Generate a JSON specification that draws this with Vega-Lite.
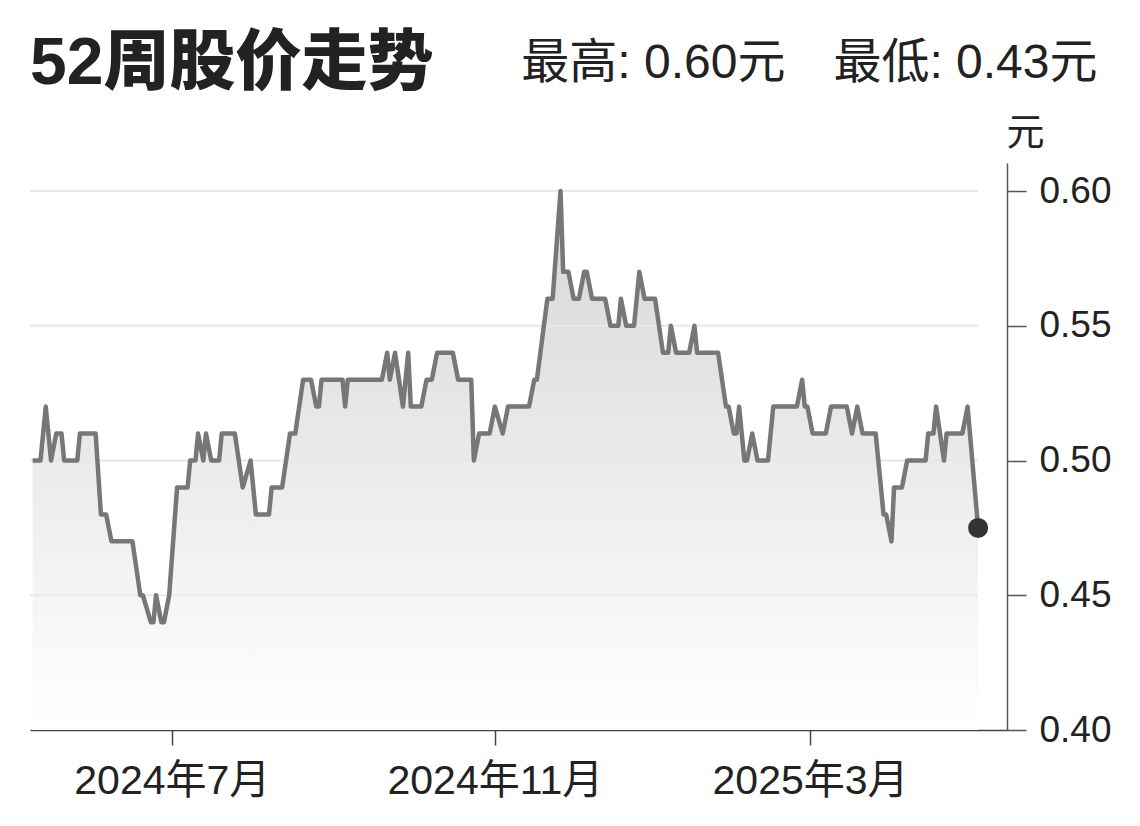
{
  "$schema": "https://vega.github.io/schema/vega-lite/v6.json",
  "width": 977,
  "height": 567,
  "autosize": {"type": "none"},
  "padding": {"left": 30, "top": 163, "right": 133, "bottom": 96},
  "background": "#ffffff",
  "config": {"view": {"stroke": null}, "font": "Liberation Sans, Noto Sans CJK SC"},
  "title": {"text": "52周股价走势", "anchor": "start", "frame": "group", "fontSize": 66, "fontWeight": 900, "font": "Liberation Sans, Noto Sans CJK SC", "color": "#222222", "offset": 0, "dy": 59},
  "datasets": {
    "prices": [
      {"date": "2024-05-09", "price": 0.50},
      {"date": "2024-05-12", "price": 0.50},
      {"date": "2024-05-14", "price": 0.52},
      {"date": "2024-05-16", "price": 0.50},
      {"date": "2024-05-18", "price": 0.51},
      {"date": "2024-05-20", "price": 0.51},
      {"date": "2024-05-21", "price": 0.50},
      {"date": "2024-05-26", "price": 0.50},
      {"date": "2024-05-27", "price": 0.51},
      {"date": "2024-06-02", "price": 0.51},
      {"date": "2024-06-04", "price": 0.48},
      {"date": "2024-06-06", "price": 0.48},
      {"date": "2024-06-08", "price": 0.47},
      {"date": "2024-06-16", "price": 0.47},
      {"date": "2024-06-19", "price": 0.45},
      {"date": "2024-06-20", "price": 0.45},
      {"date": "2024-06-23", "price": 0.44},
      {"date": "2024-06-24", "price": 0.44},
      {"date": "2024-06-25", "price": 0.45},
      {"date": "2024-06-27", "price": 0.44},
      {"date": "2024-06-28", "price": 0.44},
      {"date": "2024-06-30", "price": 0.45},
      {"date": "2024-07-03", "price": 0.49},
      {"date": "2024-07-07", "price": 0.49},
      {"date": "2024-07-08", "price": 0.50},
      {"date": "2024-07-10", "price": 0.50},
      {"date": "2024-07-11", "price": 0.51},
      {"date": "2024-07-13", "price": 0.50},
      {"date": "2024-07-14", "price": 0.51},
      {"date": "2024-07-16", "price": 0.50},
      {"date": "2024-07-19", "price": 0.50},
      {"date": "2024-07-20", "price": 0.51},
      {"date": "2024-07-25", "price": 0.51},
      {"date": "2024-07-28", "price": 0.49},
      {"date": "2024-07-31", "price": 0.50},
      {"date": "2024-08-02", "price": 0.48},
      {"date": "2024-08-07", "price": 0.48},
      {"date": "2024-08-08", "price": 0.49},
      {"date": "2024-08-12", "price": 0.49},
      {"date": "2024-08-15", "price": 0.51},
      {"date": "2024-08-17", "price": 0.51},
      {"date": "2024-08-20", "price": 0.53},
      {"date": "2024-08-23", "price": 0.53},
      {"date": "2024-08-25", "price": 0.52},
      {"date": "2024-08-26", "price": 0.52},
      {"date": "2024-08-27", "price": 0.53},
      {"date": "2024-09-04", "price": 0.53},
      {"date": "2024-09-05", "price": 0.52},
      {"date": "2024-09-06", "price": 0.53},
      {"date": "2024-09-19", "price": 0.53},
      {"date": "2024-09-21", "price": 0.54},
      {"date": "2024-09-22", "price": 0.53},
      {"date": "2024-09-24", "price": 0.54},
      {"date": "2024-09-27", "price": 0.52},
      {"date": "2024-09-29", "price": 0.54},
      {"date": "2024-09-30", "price": 0.52},
      {"date": "2024-10-04", "price": 0.52},
      {"date": "2024-10-06", "price": 0.53},
      {"date": "2024-10-08", "price": 0.53},
      {"date": "2024-10-10", "price": 0.54},
      {"date": "2024-10-16", "price": 0.54},
      {"date": "2024-10-18", "price": 0.53},
      {"date": "2024-10-23", "price": 0.53},
      {"date": "2024-10-24", "price": 0.50},
      {"date": "2024-10-26", "price": 0.51},
      {"date": "2024-10-30", "price": 0.51},
      {"date": "2024-11-01", "price": 0.52},
      {"date": "2024-11-04", "price": 0.51},
      {"date": "2024-11-06", "price": 0.52},
      {"date": "2024-11-14", "price": 0.52},
      {"date": "2024-11-16", "price": 0.53},
      {"date": "2024-11-17", "price": 0.53},
      {"date": "2024-11-21", "price": 0.56},
      {"date": "2024-11-23", "price": 0.56},
      {"date": "2024-11-26", "price": 0.60},
      {"date": "2024-11-27", "price": 0.57},
      {"date": "2024-11-29", "price": 0.57},
      {"date": "2024-12-01", "price": 0.56},
      {"date": "2024-12-03", "price": 0.56},
      {"date": "2024-12-05", "price": 0.57},
      {"date": "2024-12-06", "price": 0.57},
      {"date": "2024-12-08", "price": 0.56},
      {"date": "2024-12-13", "price": 0.56},
      {"date": "2024-12-15", "price": 0.55},
      {"date": "2024-12-18", "price": 0.55},
      {"date": "2024-12-19", "price": 0.56},
      {"date": "2024-12-21", "price": 0.55},
      {"date": "2024-12-24", "price": 0.55},
      {"date": "2024-12-26", "price": 0.57},
      {"date": "2024-12-28", "price": 0.56},
      {"date": "2025-01-01", "price": 0.56},
      {"date": "2025-01-04", "price": 0.54},
      {"date": "2025-01-06", "price": 0.54},
      {"date": "2025-01-07", "price": 0.55},
      {"date": "2025-01-09", "price": 0.54},
      {"date": "2025-01-14", "price": 0.54},
      {"date": "2025-01-16", "price": 0.55},
      {"date": "2025-01-17", "price": 0.54},
      {"date": "2025-01-25", "price": 0.54},
      {"date": "2025-01-28", "price": 0.52},
      {"date": "2025-01-29", "price": 0.52},
      {"date": "2025-01-31", "price": 0.51},
      {"date": "2025-02-01", "price": 0.51},
      {"date": "2025-02-02", "price": 0.52},
      {"date": "2025-02-04", "price": 0.50},
      {"date": "2025-02-05", "price": 0.50},
      {"date": "2025-02-07", "price": 0.51},
      {"date": "2025-02-09", "price": 0.50},
      {"date": "2025-02-13", "price": 0.50},
      {"date": "2025-02-15", "price": 0.52},
      {"date": "2025-02-24", "price": 0.52},
      {"date": "2025-02-26", "price": 0.53},
      {"date": "2025-02-27", "price": 0.52},
      {"date": "2025-02-28", "price": 0.52},
      {"date": "2025-03-02", "price": 0.51},
      {"date": "2025-03-07", "price": 0.51},
      {"date": "2025-03-09", "price": 0.52},
      {"date": "2025-03-15", "price": 0.52},
      {"date": "2025-03-17", "price": 0.51},
      {"date": "2025-03-19", "price": 0.52},
      {"date": "2025-03-21", "price": 0.51},
      {"date": "2025-03-26", "price": 0.51},
      {"date": "2025-03-29", "price": 0.48},
      {"date": "2025-03-30", "price": 0.48},
      {"date": "2025-04-01", "price": 0.47},
      {"date": "2025-04-02", "price": 0.49},
      {"date": "2025-04-05", "price": 0.49},
      {"date": "2025-04-07", "price": 0.50},
      {"date": "2025-04-14", "price": 0.50},
      {"date": "2025-04-15", "price": 0.51},
      {"date": "2025-04-17", "price": 0.51},
      {"date": "2025-04-18", "price": 0.52},
      {"date": "2025-04-21", "price": 0.50},
      {"date": "2025-04-22", "price": 0.51},
      {"date": "2025-04-28", "price": 0.51},
      {"date": "2025-04-30", "price": 0.52},
      {"date": "2025-05-04", "price": 0.475}
    ],
    "last": [
      {"date": "2025-05-04", "price": 0.475}
    ],
    "grid": [
      {"price": 0.45},
      {"price": 0.50},
      {"price": 0.55},
      {"price": 0.60}
    ]
  },
  "resolve": {"axis": {"x": "independent"}},
  "layer": [
    {
      "data": {"name": "prices"},
      "mark": {
        "type": "area",
        "interpolate": "linear",
        "color": {
          "gradient": "linear",
          "x1": 1, "y1": 0, "x2": 1, "y2": 1,
          "stops": [
            {"offset": 0, "color": "#d6d6d6"},
            {"offset": 1, "color": "#ffffff"}
          ]
        }
      },
      "encoding": {
        "x": {
          "field": "date",
          "type": "temporal",
          "scale": {
            "type": "utc",
            "domain": [
              {"year": 2024, "month": 5, "date": 8, "utc": true},
              {"year": 2025, "month": 5, "date": 15, "utc": true}
            ]
          },
          "axis": {
            "orient": "bottom",
            "values": [
              {"year": 2024, "month": 7, "date": 1, "utc": true},
              {"year": 2024, "month": 11, "date": 1, "utc": true},
              {"year": 2025, "month": 3, "date": 1, "utc": true}
            ],
            "labelExpr": "utcFormat(datum.value, '%Y年%-m月')",
            "title": null,
            "grid": false,
            "tickSize": 15,
            "tickColor": "#444444",
            "tickWidth": 1.5,
            "domainColor": "#444444",
            "domainWidth": 1.5,
            "labelFontSize": 41,
            "labelColor": "#222222",
            "labelFont": "Liberation Sans, Noto Sans CJK SC",
            "labelPadding": 16,
            "labelLimit": 0,
            "labelFlush": false,
            "labelOverlap": false
          }
        },
        "y": {
          "field": "price",
          "type": "quantitative",
          "scale": {"domain": [0.4, 0.6104], "nice": false, "zero": false},
          "axis": {
            "orient": "right",
            "values": [0.4, 0.45, 0.5, 0.55, 0.6],
            "format": ".2f",
            "grid": false,
            "tickSize": 19,
            "tickColor": "#555555",
            "tickWidth": 1.5,
            "domainColor": "#555555",
            "domainWidth": 1.5,
            "labelFontSize": 37,
            "labelColor": "#222222",
            "labelFont": "Liberation Sans, Noto Sans CJK SC",
            "labelPadding": 13,
            "labelFlush": false,
            "title": "元",
            "titleAngle": 0,
            "titleFontSize": 38,
            "titleFontWeight": "normal",
            "titleColor": "#222222",
            "titleFont": "Liberation Sans, Noto Sans CJK SC",
            "titleX": 18,
            "titleY": -19,
            "titleAlign": "center",
            "titleBaseline": "alphabetic"
          }
        },
        "y2": {"datum": 0.4}
      }
    },
    {
      "data": {"name": "grid"},
      "mark": {"type": "rule", "color": "#e8e8e8", "strokeWidth": 2},
      "encoding": {
        "x": {"datum": {"year": 2024, "month": 5, "date": 8, "utc": true}, "type": "temporal", "axis": null},
        "x2": {"datum": {"year": 2025, "month": 5, "date": 4, "utc": true}},
        "y": {"field": "price", "type": "quantitative"}
      }
    },
    {
      "data": {"name": "prices"},
      "mark": {"type": "line", "color": "#777777", "strokeWidth": 4.5, "strokeJoin": "round", "interpolate": "linear"},
      "encoding": {
        "x": {"field": "date", "type": "temporal", "axis": null},
        "y": {"field": "price", "type": "quantitative"}
      }
    },
    {
      "data": {"name": "last"},
      "mark": {"type": "point", "filled": true, "color": "#333333", "opacity": 1, "size": 400},
      "encoding": {
        "x": {
          "field": "date",
          "type": "temporal",
          "axis": {
            "orient": "top",
            "labels": false,
            "ticks": false,
            "domain": false,
            "grid": false,
            "title": "最高: 0.60元\u3000最低: 0.43元",
            "titleFontSize": 48,
            "titleFontWeight": "normal",
            "titleColor": "#222222",
            "titleFont": "Liberation Sans, Noto Sans CJK SC",
            "titleX": 1067,
            "titleY": -86,
            "titleAlign": "right",
            "titleBaseline": "alphabetic"
          }
        },
        "y": {"field": "price", "type": "quantitative"}
      }
    }
  ]
}
